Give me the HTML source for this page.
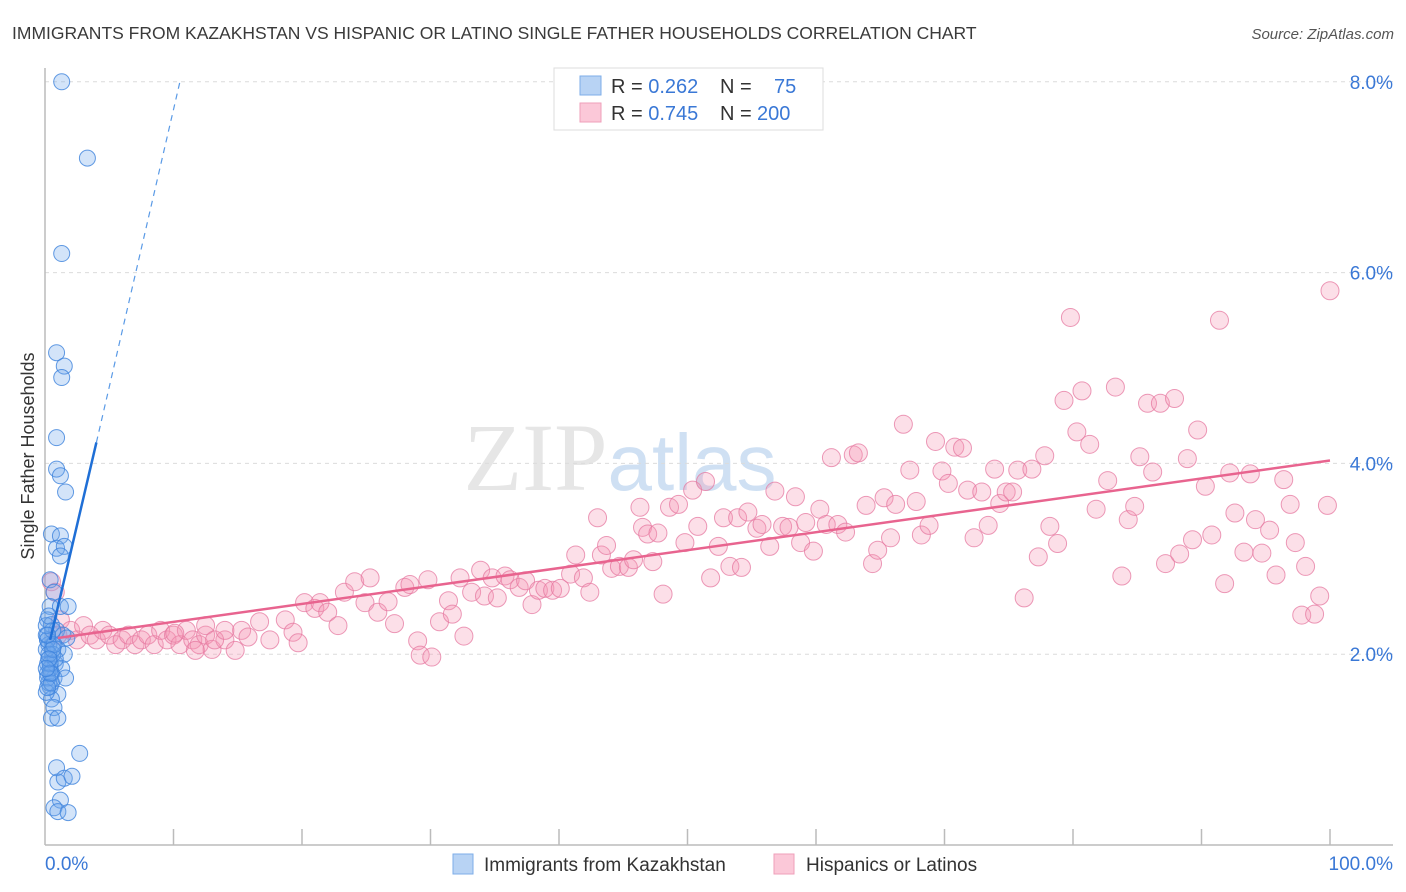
<!DOCTYPE html>
<html><head><meta charset="utf-8"><style>
body{margin:0;background:#fff;font-family:"Liberation Sans",sans-serif}
svg{display:block}
</style></head><body>
<svg id="c" width="1406" height="892">
<text x="12" y="39" font-size="17.5" fill="#3a3a3a">IMMIGRANTS FROM KAZAKHSTAN VS HISPANIC OR LATINO SINGLE FATHER HOUSEHOLDS CORRELATION CHART</text>
<text x="1394" y="39" font-size="15" fill="#555" font-style="italic" text-anchor="end">Source: ZipAtlas.com</text>
<text x="620" y="490" font-size="96" fill="#e6e6e6" font-family="Liberation Serif" text-anchor="middle">ZIP<tspan fill="#cfe0f3" font-family="Liberation Sans" font-size="80">atlas</tspan></text>
<text transform="translate(34,456) rotate(-90)" font-size="18" fill="#333" text-anchor="middle">Single Father Households</text>
<g id="grid"></g><g id="axes"></g><g id="pink"></g><g id="blue"></g><g id="trends"></g>
<g>
<rect x="554" y="68" width="269" height="62" fill="#fff" stroke="#ddd"/>
<rect x="580" y="76" width="21" height="19" fill="#b8d3f4" stroke="#7eaee8"/>
<rect x="580" y="103" width="21" height="19" fill="#fbc8d8" stroke="#ef9fba"/>
<text x="611" y="93" font-size="20" fill="#333">R = <tspan fill="#3a78d6">0.262</tspan><tspan x="720">N =</tspan><tspan x="774" fill="#3a78d6">75</tspan></text>
<text x="611" y="120" font-size="20" fill="#333">R = <tspan fill="#3a78d6">0.745</tspan><tspan x="720">N =</tspan><tspan x="757" fill="#3a78d6">200</tspan></text>
</g>
<g>
<rect x="453" y="854" width="20" height="20" fill="#b8d3f4" stroke="#7eaee8"/>
<text x="484" y="871" font-size="19" fill="#333">Immigrants from Kazakhstan</text>
<rect x="774" y="854" width="20" height="20" fill="#fbc8d8" stroke="#ef9fba"/>
<text x="806" y="871" font-size="19" fill="#333">Hispanics or Latinos</text>
</g>
</svg>
<script>
const yTicks=[2,4,6,8];
const yTickLabels=["2.0%","4.0%","6.0%","8.0%"];
const xTicks=[0,10,20,30,40,50,60,70,80,90,100];
const xEndLabels=["0.0%","100.0%"];
const blueX=[1.3,3.3,1.3,0.9,1.5,1.3,0.9,0.9,1.2,1.6,0.5,1.2,0.9,1.5,1.2,0.4,0.7,0.4,1.2,1.8,0.2,0.5,0.9,1.4,1.7,0.2,0.6,1.0,1.5,0.3,0.8,1.3,0.2,0.7,1.6,0.4,1.0,0.5,0.7,0.5,1.0,2.7,0.9,1.0,1.5,2.1,1.2,0.7,1.0,1.8,0.1,0.3,0.6,0.2,0.4,0.8,0.1,0.3,0.5,0.2,0.6,0.1,0.4,0.3,0.7,0.2,0.5,0.1,0.3,0.2,0.4,0.6,0.2,0.3,0.1];
const blueY=[8.0,7.2,6.2,5.16,5.02,4.9,4.27,3.94,3.87,3.7,3.26,3.24,3.11,3.13,3.03,2.78,2.65,2.5,2.5,2.5,2.36,2.31,2.25,2.2,2.17,2.15,2.1,2.05,2.0,1.95,1.9,1.85,1.8,1.75,1.75,1.66,1.58,1.53,1.44,1.33,1.33,0.96,0.81,0.66,0.7,0.72,0.47,0.39,0.35,0.34,2.2,2.1,2.0,1.9,1.85,1.95,2.05,1.7,1.8,2.15,2.25,1.6,1.9,2.0,2.1,1.75,1.7,2.3,2.4,1.65,1.8,2.05,2.2,1.95,1.85];
const pinkX=[0.5,0.8,1.2,1,2,2.5,3,3.5,4,4.5,5,5.5,6,6.5,7,7.5,8,8.5,9,9.5,10,10.5,11,11.5,12,12.5,13,14,10.1,11.7,12.5,13.2,14,14.8,15.3,15.8,16.7,17.5,18.7,19.3,19.7,20.2,21,21.4,22,22.8,23.3,24.1,24.9,25.3,25.9,26.7,27.2,28,28.4,29,29.2,30.1,29.8,30.7,31.4,31.7,32.3,32.6,33.2,33.9,34.2,34.8,35.2,35.8,36.2,36.9,37.4,37.9,38.4,38.9,39.5,40.1,40.9,41.3,41.9,42.4,43,43.3,43.7,44.1,44.7,45.4,45.8,46.3,46.5,46.9,47.3,47.7,48.1,48.6,49.3,49.8,50.4,50.8,51.4,51.8,52.4,52.8,53.3,53.9,54.2,54.7,55.4,55.8,56.4,56.8,57.4,57.9,58.4,58.8,59.2,59.8,60.3,60.8,61.2,61.7,62.3,62.9,63.3,63.9,64.4,64.8,65.3,65.8,66.2,66.8,67.3,67.8,68.2,68.8,69.3,69.8,70.3,70.8,71.4,71.8,72.3,72.9,73.4,73.9,74.3,74.8,75.3,75.7,76.2,76.8,77.3,77.8,78.2,78.8,79.3,79.8,80.3,80.7,81.3,81.8,82.7,83.3,83.8,84.3,84.8,85.2,85.8,86.2,86.8,87.2,87.9,88.3,88.9,89.3,89.7,90.3,90.8,91.4,91.8,92.2,92.6,93.3,93.8,94.2,94.7,95.3,95.8,96.4,96.9,97.3,97.8,98.1,98.8,99.2,99.8,100];
const pinkY=[2.76,2.65,2.36,2.2,2.25,2.15,2.3,2.2,2.15,2.25,2.2,2.1,2.15,2.2,2.1,2.15,2.2,2.1,2.25,2.15,2.2,2.1,2.25,2.15,2.1,2.2,2.05,2.15,2.22,2.04,2.3,2.15,2.25,2.04,2.25,2.18,2.34,2.15,2.36,2.23,2.12,2.54,2.48,2.54,2.44,2.3,2.65,2.76,2.54,2.8,2.44,2.55,2.32,2.7,2.73,2.14,1.99,1.97,2.78,2.34,2.56,2.42,2.8,2.19,2.65,2.88,2.61,2.8,2.59,2.82,2.78,2.7,2.77,2.52,2.67,2.69,2.67,2.69,2.84,3.04,2.8,2.65,3.43,3.04,3.14,2.9,2.92,2.91,2.99,3.54,3.33,3.26,2.97,3.27,2.63,3.54,3.57,3.17,3.72,3.34,3.81,2.8,3.13,3.43,2.92,3.43,2.91,3.49,3.32,3.36,3.13,3.71,3.34,3.33,3.65,3.17,3.38,3.08,3.52,3.36,4.06,3.36,3.28,4.09,4.11,3.56,2.95,3.09,3.64,3.22,3.57,4.41,3.93,3.6,3.25,3.35,4.23,3.92,3.79,4.17,4.16,3.72,3.22,3.7,3.35,3.94,3.58,3.7,3.7,3.93,2.59,3.94,3.02,4.08,3.34,3.16,4.66,5.53,4.33,4.76,4.2,3.52,3.82,4.8,2.82,3.41,3.55,4.07,4.63,3.91,4.63,2.95,4.68,3.05,4.05,3.2,4.35,3.76,3.25,5.5,2.74,3.9,3.48,3.07,3.89,3.41,3.06,3.3,2.83,3.83,3.57,3.17,2.41,2.92,2.42,2.61,3.56,5.81];
const pinkTrendX=[1,100], pinkTrendY=[2.17,4.03];
const blueSolidX=[0.4,4], blueSolidY=[2.15,4.22];
const blueDashX=[4,10.5], blueDashY=[4.22,8.0];

const X0=45,X1=1330,Y0=845,YS=95.4;
const sx=v=>X0+(X1-X0)*v/100, sy=v=>Y0-v*YS;
const NS="http://www.w3.org/2000/svg";
function mk(tag,parent,attrs){const e=document.createElementNS(NS,tag);for(const k in attrs)e.setAttribute(k,attrs[k]);document.getElementById(parent).appendChild(e);return e;}
yTicks.forEach((t,i)=>{
  const g=mk('line','grid',{x1:X0,x2:1393,y1:sy(t),y2:sy(t),stroke:'#dcdcdc','stroke-dasharray':'4,4'});
  
  
  const l=mk('text','grid',{x:1393,y:sy(t)+7,'font-size':19,fill:'#3a78d6','text-anchor':'end'});
  l.textContent=yTickLabels[i];
  
  
});
let ax=mk('line','axes',{x1:X0,x2:X0,y1:68,y2:Y0,stroke:'#bbb','stroke-width':1.5});


ax=mk('line','axes',{x1:X0,x2:1393,y1:Y0,y2:Y0,stroke:'#bbb','stroke-width':1.5});


xTicks.forEach(t=>{if(t===0)return;
  const e=mk('line','axes',{x1:sx(t),x2:sx(t),y1:Y0-16,y2:Y0,stroke:'#bbb','stroke-width':1.5});
  
  
});
let xl=mk('text','axes',{x:45,y:870,'font-size':19,fill:'#3a78d6'});xl.textContent=xEndLabels[0];


xl=mk('text','axes',{x:1393,y:870,'font-size':19,fill:'#3a78d6','text-anchor':'end'});xl.textContent=xEndLabels[1];


pinkX.forEach((x,i)=>{
  const c=mk('circle','pink',{cx:sx(x),cy:sy(pinkY[i]),r:9,fill:'rgba(244,150,180,0.3)',stroke:'rgba(230,120,160,0.75)','stroke-width':1});
  
  
});
blueX.forEach((x,i)=>{
  const c=mk('circle','blue',{cx:sx(x),cy:sy(blueY[i]),r:8,fill:'rgba(110,165,235,0.3)',stroke:'rgba(60,130,220,0.8)','stroke-width':1});
  
  
});
let t=mk('line','trends',{x1:sx(pinkTrendX[0]),y1:sy(pinkTrendY[0]),x2:sx(pinkTrendX[1]),y2:sy(pinkTrendY[1]),stroke:'#e8648f','stroke-width':2.5});


t=mk('line','trends',{x1:sx(blueSolidX[0]),y1:sy(blueSolidY[0]),x2:sx(blueSolidX[1]),y2:sy(blueSolidY[1]),stroke:'#1f6fd6','stroke-width':2.5});


t=mk('line','trends',{x1:sx(blueDashX[0]),y1:sy(blueDashY[0]),x2:sx(blueDashX[1]),y2:sy(blueDashY[1]),stroke:'#5a9ae6','stroke-width':1.2,'stroke-dasharray':'6,5'});


</script>
</body></html>
